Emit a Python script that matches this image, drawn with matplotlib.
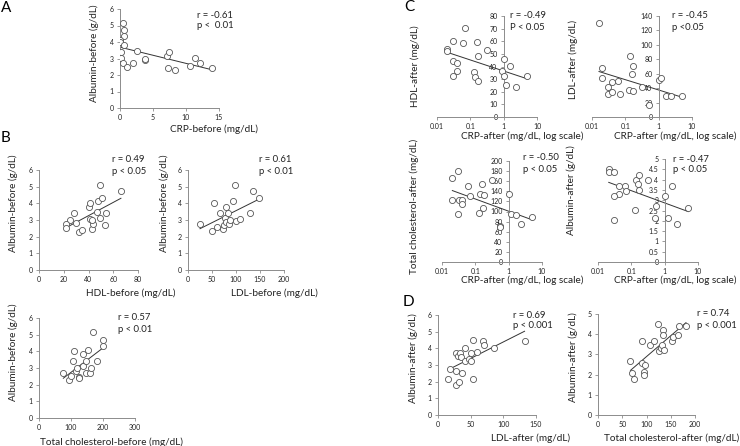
import matplotlib
matplotlib.use("Agg")
import matplotlib.pyplot as plt
import numpy as np
from matplotlib.ticker import NullLocator

plt.rcParams['font.family'] = ['Lato', 'DejaVu Sans']

W, H = 740, 446

# A: CRP-before vs albumin-before
crp_before = [0.5, 0.65, 0.6, 0.05, 0.05, 0.55, 0.15, 0.15, 0.4, 1.0, 2.0, 2.6, 3.75, 3.85, 7.05, 7.4, 7.25, 8.4, 10.65, 11.4, 12.05, 14.0]
alb_before_crp = [5.15, 4.75, 4.34, 4.1, 4.0, 3.84, 3.4, 3.03, 2.73, 2.5, 2.73, 3.43, 2.89, 2.97, 3.13, 3.4, 2.42, 2.32, 2.53, 3.03, 2.73, 2.42]

# B: lipids-before vs albumin-before
hdl_before = [25, 22, 22, 28, 30, 32.4, 35, 40, 41.4, 41.4, 42.7, 43.5, 43.2, 46.8, 47.6, 49.5, 51, 49.5, 53.8, 53.5, 66.2]
alb_before_hdl = [3.0, 2.75, 2.5, 3.42, 2.85, 2.3, 2.4, 3.8, 4.05, 3.05, 2.45, 2.75, 3.0, 3.48, 4.15, 3.15, 4.35, 5.1, 3.45, 2.7, 4.75]

ldl_before = [25, 49, 54, 60, 66, 72, 75, 77, 80, 80, 84, 86, 87, 94, 98, 101, 108, 130, 135, 148]
alb_before_ldl = [2.74, 2.34, 4.02, 2.56, 3.44, 2.44, 2.7, 3.1, 3.8, 2.9, 3.44, 2.76, 3.0, 4.16, 5.1, 2.94, 3.04, 3.44, 4.74, 4.34]

tc_before = [76, 94, 100, 105, 109, 115, 120, 124, 124, 139, 139, 146, 147, 154, 159, 161, 170, 181, 199, 201]
alb_before_tc = [2.7, 2.3, 2.54, 3.42, 4.02, 2.8, 2.98, 2.46, 2.38, 3.82, 3.1, 3.4, 2.7, 4.1, 2.7, 3.0, 5.14, 3.4, 4.7, 4.3]

# C: CRP-after (log) vs lipids / albumin after
crp_after_hdl = [0.0204, 0.0204, 0.0708, 0.030, 0.0603, 0.162, 0.030, 0.041, 0.041, 0.030, 0.129, 0.141, 0.169, 0.169, 0.316, 1.0, 0.9, 1.0, 1.58, 1.2, 2.29, 5.1]
hdl_after = [53.7, 52.6, 70.3, 60.3, 58.4, 59.2, 44.5, 42.6, 36.6, 32.6, 35.5, 31.6, 28.7, 48.4, 53.2, 46, 36.5, 32.5, 40.5, 25.5, 23.4, 32.1]

crp_after_ldl = [0.0162, 0.02, 0.02, 0.03, 0.03, 0.04, 0.04, 0.06, 0.071, 0.141, 0.17, 0.16, 0.126, 0.17, 0.316, 0.525, 1.0, 1.17, 1.7, 2.35, 5.1]
ldl_after_crp = [130.8, 68.2, 53.4, 41.4, 31.8, 47.9, 35, 50.2, 32.2, 84.7, 70.9, 59.9, 36.8, 35.5, 41.4, 16.6, 51.6, 53.9, 28.5, 28.5, 28.5]

crp_after_tc = [0.0204, 0.030, 0.0204, 0.0316, 0.041, 0.041, 0.030, 0.06, 0.071, 0.134, 0.162, 0.178, 0.17, 0.128, 0.324, 1.0, 0.54, 0.56, 1.2, 1.7, 2.3, 5.1]
tc_after_crp = [166, 180, 123, 123, 123, 115.5, 94.4, 150.5, 130, 135, 154, 133, 107.6, 97, 161.7, 135, 70.6, 68.6, 94.4, 92.4, 75, 89]

crp_after_alb = [0.021, 0.021, 0.031, 0.042, 0.042, 0.031, 0.063, 0.071, 0.031, 0.14, 0.17, 0.16, 0.17, 0.13, 0.32, 0.56, 0.52, 1.0, 1.23, 1.66, 2.3, 5.1]
alb_after_crp = [4.51, 4.38, 4.38, 3.71, 3.31, 3.22, 3.71, 3.47, 2.04, 3.96, 4.2, 3.78, 3.5, 2.52, 3.99, 2.72, 2.12, 3.22, 2.12, 3.71, 1.84, 2.62]

# D: lipids-after vs albumin-after
ldl_after = [16, 18, 27.3, 27.3, 27.3, 31.4, 30.9, 34, 35, 36, 40.7, 41.8, 47, 50, 51, 53, 53, 59.3, 68.6, 70, 85, 132.5]
alb_after_ldl = [2.14, 2.74, 1.8, 2.64, 3.74, 2.0, 3.54, 3.74, 3.5, 2.5, 4.0, 3.24, 3.34, 3.74, 3.24, 4.5, 2.14, 3.8, 4.44, 4.2, 4.0, 4.44]

tc_after = [66.9, 70.3, 74.5, 89.7, 91.7, 94.5, 94.5, 97.2, 108, 115.9, 123.4, 125.5, 129, 131.7, 133, 134.5, 135.9, 151.7, 155, 164.8, 167.6, 181.4]
alb_after_tc = [2.68, 2.07, 1.77, 2.57, 3.68, 2.12, 1.99, 2.48, 3.48, 3.68, 4.5, 3.18, 3.31, 3.48, 4.19, 3.97, 3.2, 3.68, 3.84, 3.97, 4.39, 4.39]

log_ticks = [0.01, 0.1, 1, 10]
log_labels = ["0.01", "0.1", "1", "10"]

fig = plt.figure(figsize=(W / 100, H / 100), dpi=100)


def ftext(x, y, s, **kw):
	fig.text(x / W, 1 - y / H, s, **kw)


def panel(box, x, y, xlim, ylim, xticks, yticks, logx=False):
	x0, x1, ytop, ybot = box
	ax = fig.add_axes([x0 / W, 1 - ybot / H, (x1 - x0) / W, (ybot - ytop) / H])
	x = np.array(x, dtype=float)
	y = np.array(y, dtype=float)
	ax.plot(x, y, ls='', marker='o', ms=4.4, mfc='white', mec='#555555', mew=0.6, zorder=3)

	# least squares trend line over the data range
	if logx:
		b, a = np.polyfit(np.log10(x), y, 1)
		xs = np.array([x.min(), x.max()])
		ax.plot(xs, a + b * np.log10(xs), color='#333333', lw=0.7, zorder=2)
		ax.set_xscale('log')
		ax.xaxis.set_minor_locator(NullLocator())
		ax.set_xticks(xticks)
		ax.set_xticklabels(log_labels)
		ax.spines['left'].set_position(('data', 1))
	else:
		b, a = np.polyfit(x, y, 1)
		xs = np.array([x.min(), x.max()])
		ax.plot(xs, a + b * xs, color='#333333', lw=0.7, zorder=2)
		ax.set_xticks(xticks)
		ax.set_xticklabels(["{:g}".format(t) for t in xticks])

	ax.set_xlim(xlim)
	ax.set_ylim(ylim)
	ax.set_yticks(yticks)
	ax.set_yticklabels(["{:g}".format(t) for t in yticks])
	ax.set_facecolor('none')
	for side in ['top', 'right']:
		ax.spines[side].set_visible(False)
	for side in ['left', 'bottom']:
		ax.spines[side].set_color('#8c8c8c')
		ax.spines[side].set_linewidth(0.7)
	ax.tick_params(length=2, width=0.6, color='#8c8c8c', labelsize=5, pad=2.5, labelcolor='#222222')
	return ax


# A
panel((120, 219, 9, 108), crp_before, alb_before_crp, (0, 15), (0, 6), [0, 5, 10, 15], range(0, 7))
# B
panel((39, 138, 170, 270), hdl_before, alb_before_hdl, (0, 80), (0, 6), [0, 20, 40, 60, 80], range(0, 7))
panel((188, 284, 170, 270), ldl_before, alb_before_ldl, (0, 200), (0, 6), [0, 50, 100, 150, 200], range(0, 7))
panel((39, 135, 318, 418), tc_before, alb_before_tc, (0, 300), (0, 6), [0, 100, 200, 300], range(0, 7))
# C
panel((437, 537, 16, 117), crp_after_hdl, hdl_after, (0.01, 10), (0, 80), log_ticks, range(0, 81, 10), logx=True)
panel((592, 692, 16, 117), crp_after_ldl, ldl_after_crp, (0.01, 10), (0, 140), log_ticks, range(0, 141, 20), logx=True)
panel((442, 542, 161, 262), crp_after_tc, tc_after_crp, (0.01, 10), (0, 200), log_ticks, range(0, 201, 20), logx=True)
panel((598, 698, 159, 262), crp_after_alb, alb_after_crp, (0.01, 10), (0, 5), log_ticks, np.arange(0, 5.01, 0.5), logx=True)
# D
panel((438, 536, 315, 415), ldl_after, alb_after_ldl, (0, 150), (0, 6), [0, 50, 100, 150], range(0, 7))
panel((598, 695, 314, 415), tc_after, alb_after_tc, (0, 200), (0, 5), [0, 50, 100, 150, 200], range(0, 6))

# panel letters
for lx, ly, s in [(6, 8, "A"), (5, 138, "B"), (409, 7, "C"), (408, 302, "D")]:
	ftext(lx, ly, s, fontsize=11, ha='center', va='center')

# axis titles
lab = dict(fontsize=7.2, color='#222222')
ftext(214, 129, "CRP-before (mg/dL)", ha='center', va='center', **lab)
ftext(131, 293, "HDL-before (mg/dL)", ha='center', va='center', **lab)
ftext(274, 293, "LDL-before (mg/dL)", ha='center', va='center', **lab)
ftext(112, 442, "Total cholesterol-before (mg/dL)", ha='center', va='center', **lab)
ftext(522, 136, "CRP-after (mg/dL, log scale)", ha='center', va='center', **lab)
ftext(737, 136, "CRP-after (mg/dL, log scale)", ha='right', va='center', **lab)
ftext(522, 280, "CRP-after (mg/dL, log scale)", ha='center', va='center', **lab)
ftext(737, 280, "CRP-after (mg/dL, log scale)", ha='right', va='center', **lab)
ftext(531, 438, "LDL-after (mg/dL)", ha='center', va='center', **lab)
ftext(672, 438, "Total cholesterol-after (mg/dL)", ha='center', va='center', **lab)

for vx, vy, s in [(94, 53, "Albumin-before (g/dL)"), (13, 203, "Albumin-before (g/dL)"),
		(164, 203, "Albumin-before (g/dL)"), (13, 352, "Albumin-before (g/dL)"),
		(415, 66, "HDL-after (mg/dL)"), (573, 59, "LDL-after (mg/dL)"),
		(414, 206, "Total cholesterol-after (mg/dL)"), (571, 190, "Albumin-after (g/dL)"),
		(413, 358, "Albumin-after (g/dL)"), (573, 357, "Albumin-after (g/dL)")]:
	ftext(vx, vy, s, rotation=90, ha='center', va='center', **lab)

# correlation notes
st = dict(fontsize=6.8, color='#222222', ha='left', va='center')
notes = [(197, 15, 25, "r = -0.61", "p <  0.01"), (112, 159, 171, "r = 0.49", "p < 0.05"),
	(259, 159, 171, "r = 0.61", "p < 0.01"), (118, 318, 330, "r = 0.57", "p < 0.01"),
	(510, 16, 27, "r = -0.49", "P < 0.05"), (672, 16, 27, "r = -0.45", "p <0.05"),
	(523, 158, 169, "r = -0.50", "p < 0.05"), (673, 159, 170, "r = -0.47", "p < 0.05"),
	(513, 315, 325, "r = 0.69", "p < 0.001"), (697, 314, 325, "r = 0.74", "p < 0.001")]
for nx, ry, py, r, p in notes:
	ftext(nx, ry, r, **st)
	ftext(nx, py, p, **st)

fig.savefig("out.png", dpi=100)
